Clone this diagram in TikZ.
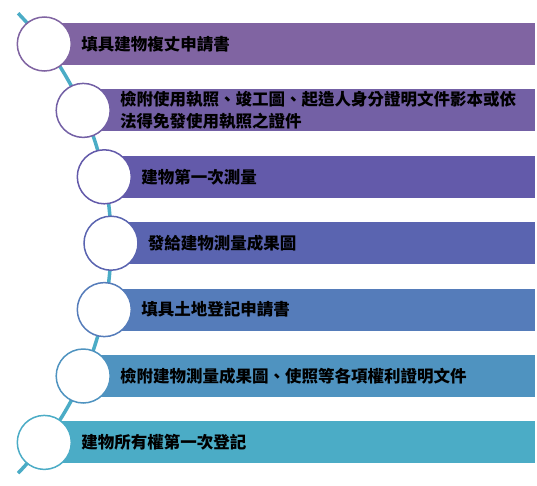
\documentclass[tikz,border=0pt]{standalone}
\usepackage{fontspec}
\newfontfamily\cjk{Noto Sans CJK TC}
\usetikzlibrary{positioning}
\definecolor{toneA}{HTML}{8064A2}
\definecolor{toneB}{HTML}{7360A5}
\definecolor{toneC}{HTML}{635AAA}
\definecolor{toneD}{HTML}{5A64B0}
\definecolor{toneE}{HTML}{557CBA}
\definecolor{toneF}{HTML}{4F93C0}
\definecolor{toneG}{HTML}{4BACC6}
\begin{document}
\begin{tikzpicture}
	[x=1pt, y=1pt,
	ring/.style={circle, draw, fill=white, line width=1.5pt,
		minimum size=54pt, inner sep=0pt},
	bar/.style={rectangle, anchor=west, minimum height=42pt, inner sep=0pt},
	txt/.style={inner sep=0pt, align=left,
		font=\cjk\bfseries\fontsize{16.5}{22}\selectfont},
	spine/.style={line width=3.5pt, draw=toneG}]
	\useasboundingbox (0,0) rectangle (537,-485);
	\coordinate (hub) at (-220,-243.2);
	\coordinate (p1) at (44.3,-44);
	\coordinate (p2) at (83.2,-110.4);
	\coordinate (p3) at (104.3,-176.8);
	\coordinate (p4) at (111,-243.2);
	\coordinate (p5) at (104.3,-309.6);
	\coordinate (p6) at (83.2,-376);
	\coordinate (p7) at (44.3,-442.4);
	\draw[spine] (hub) ++(44:331) arc[start angle=44, end angle=-44, radius=331];
	\node[bar, fill=toneA, minimum width=490.7pt] (bar1) at (p1) {};
	\node[bar, fill=toneB, minimum width=451.8pt] (bar2) at (p2) {};
	\node[bar, fill=toneC, minimum width=430.7pt] (bar3) at (p3) {};
	\node[bar, fill=toneD, minimum width=424pt] (bar4) at (p4) {};
	\node[bar, fill=toneE, minimum width=430.7pt] (bar5) at (p5) {};
	\node[bar, fill=toneF, minimum width=451.8pt] (bar6) at (p6) {};
	\node[bar, fill=toneG, minimum width=490.7pt] (bar7) at (p7) {};
	\node[ring, draw=toneA] (ring1) at (p1) {};
	\node[ring, draw=toneB] (ring2) at (p2) {};
	\node[ring, draw=toneC] (ring3) at (p3) {};
	\node[ring, draw=toneD] (ring4) at (p4) {};
	\node[ring, draw=toneE] (ring5) at (p5) {};
	\node[ring, draw=toneF] (ring6) at (p6) {};
	\node[ring, draw=toneG] (ring7) at (p7) {};
	\node[txt, right=9pt of ring1] (txt1) {填具建物複丈申請書};
	\node[txt, right=9pt of ring2] (txt2) {檢附使用執照、竣工圖、起造人身分證明文件影本或依\\法得免發使用執照之證件};
	\node[txt, right=9pt of ring3] (txt3) {建物第一次測量};
	\node[txt, right=9pt of ring4] (txt4) {發給建物測量成果圖};
	\node[txt, right=9pt of ring5] (txt5) {填具土地登記申請書};
	\node[txt, right=9pt of ring6] (txt6) {檢附建物測量成果圖、使照等各項權利證明文件};
	\node[txt, right=9pt of ring7] (txt7) {建物所有權第一次登記};
\end{tikzpicture}
\end{document}
